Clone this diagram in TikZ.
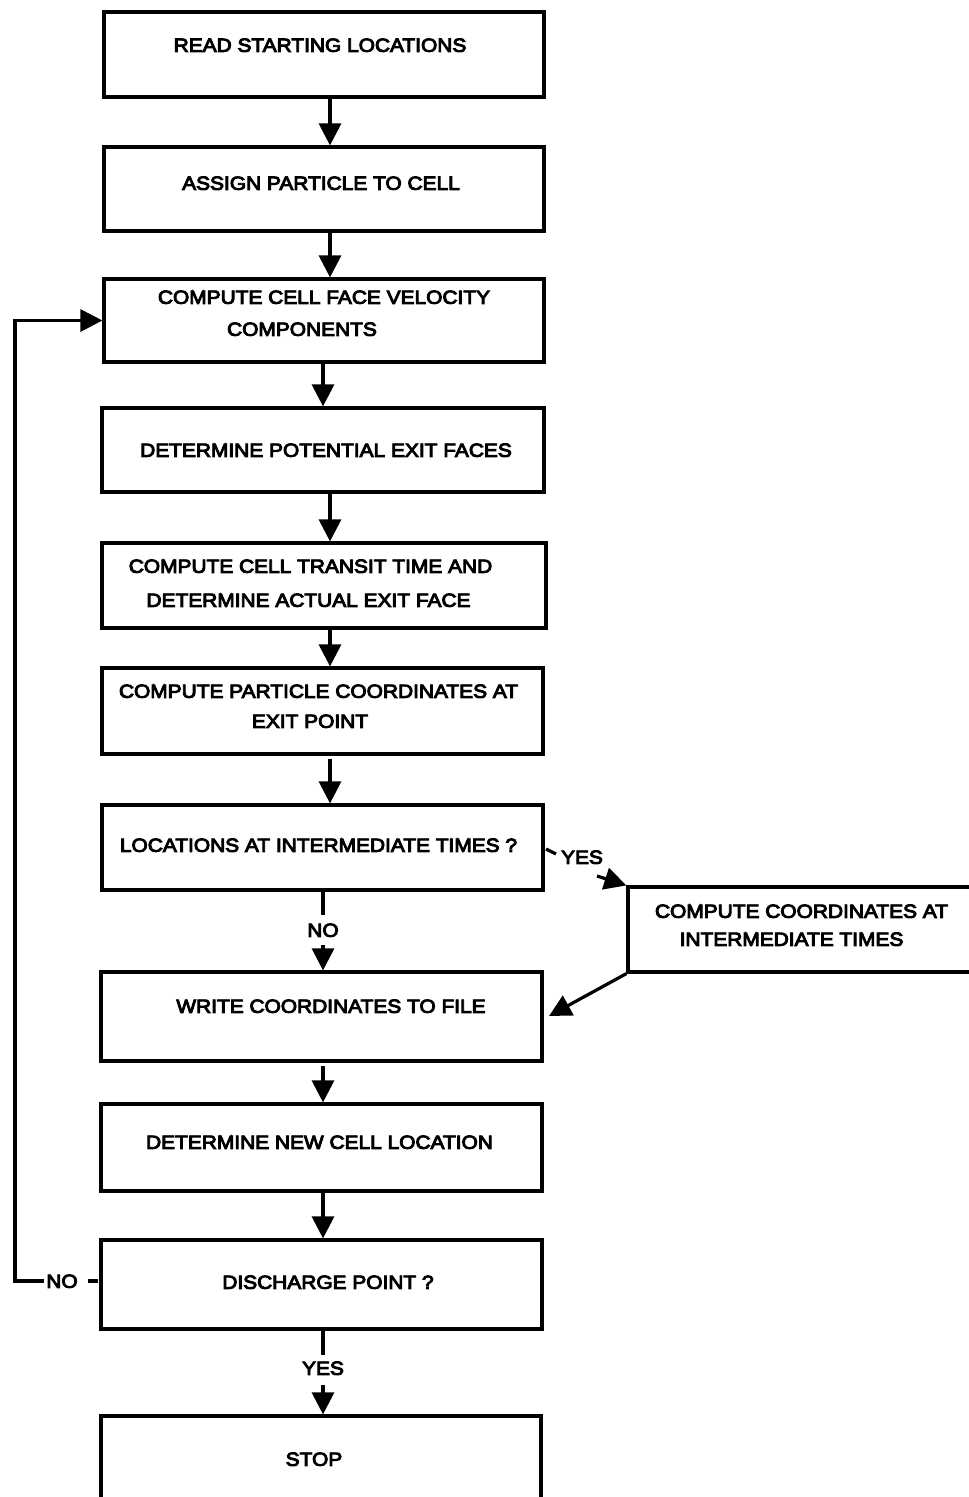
\documentclass[tikz,border=0pt]{standalone}
\usepackage{fontspec}
\setmainfont{Liberation Sans}[FakeStretch=1.1,FakeBold=5]
\usetikzlibrary{arrows.meta}
\begin{document}
\begin{tikzpicture}[x=1pt,y=-1pt,
  line join=miter,
  flowbox/.style={draw, line width=3.2pt, inner sep=0pt},
  wh/.style 2 args={minimum width=#1pt, minimum height=#2pt},
  txt/.style={inner sep=0pt, text height=13.6pt, text depth=0pt,
              font=\fontsize{19}{22}\selectfont},
  wire/.style={draw, line width=3.2pt},
  flow/.style={wire, -{Triangle[width=22pt,length=22pt]}}]

\useasboundingbox (0,0) rectangle (969,1497);
\fill[white] (0,0) rectangle (969,1497);

% columns used by the vertical connectors
\coordinate (colA) at (330,0);
\coordinate (colB) at (323,0);
\coordinate (loopx) at (15,0);

% process boxes
\node[flowbox, wh={440}{85}] (b1)  at (324,54.5)   {};
\node[flowbox, wh={440}{84}] (b2)  at (324,189)    {};
\node[flowbox, wh={440}{83}] (b3)  at (324,320.5)  {};
\node[flowbox, wh={442}{84}] (b4)  at (323,450)    {};
\node[flowbox, wh={444}{85}] (b5)  at (324,585.5)  {};
\node[flowbox, wh={441}{86}] (b6)  at (322.5,711)  {};
\node[flowbox, wh={441}{85}] (b7)  at (322.5,847.5){};
\node[flowbox, wh={372}{85}] (b8)  at (814,929.5)  {};
\node[flowbox, wh={441}{89}] (b9)  at (321.5,1016.5){};
\node[flowbox, wh={441}{87}] (b10) at (321.5,1147.5){};
\node[flowbox, wh={441}{89}] (b11) at (321.5,1284.5){};
\node[flowbox, wh={440}{94}] (b12) at (321,1463)   {};

% box texts
\node[txt] (t1)  at (320,45)    {READ STARTING LOCATIONS};
\node[txt] (t2)  at (321,183)   {ASSIGN PARTICLE TO CELL};
\node[txt] (t3a) at (324,297)   {COMPUTE CELL FACE VELOCITY};
\node[txt] (t3b) at (302,329)   {COMPONENTS};
\node[txt] (t4)  at (326,450)   {DETERMINE POTENTIAL EXIT FACES};
\node[txt] (t5a) at (310.5,566) {COMPUTE CELL TRANSIT TIME AND};
\node[txt] (t5b) at (308.5,600) {DETERMINE ACTUAL EXIT FACE};
\node[txt] (t6a) at (318.5,691) {COMPUTE PARTICLE COORDINATES AT};
\node[txt] (t6b) at (310,721)   {EXIT POINT};
\node[txt] (t7)  at (318.5,845) {LOCATIONS AT INTERMEDIATE TIMES ?};
\node[txt] (t8a) at (801.5,911) {COMPUTE COORDINATES AT};
\node[txt] (t8b) at (791.5,939) {INTERMEDIATE TIMES};
\node[txt] (t9)  at (331,1006)  {WRITE COORDINATES TO FILE};
\node[txt] (t10) at (319.5,1142){DETERMINE NEW CELL LOCATION};
\node[txt] (t11) at (328,1282)  {DISCHARGE POINT ?};
\node[txt] (t12) at (314,1459)  {STOP};

% main sequence
\draw[flow] (b1.south -| colA) -- (b2.north -| colA);
\draw[flow] (b2.south -| colA) -- (b3.north -| colA);
\draw[flow] (b3.south -| colB) -- (b4.north -| colB);
\draw[flow] (b4.south -| colA) -- (b5.north -| colA);
\draw[flow] (b5.south -| colA) -- (b6.north -| colA);
\draw[flow] ([yshift=-3pt]b6.south -| colA) -- (b7.north -| colA);

% decision: intermediate times
\node[txt] (no1) at (323,930) {NO};
\draw[wire] (b7.south -| colB) -- ([yshift=8pt]no1.north -| colB);
\draw[flow] ([yshift=-8pt]no1.south -| colB) -- (b9.north -| colB);

\coordinate (yesTick) at (546,849);
\node[txt] (yes1) at (582,857) {YES};
\coordinate (yesFoot) at (597,876);
\draw[wire] (yesTick) -- (556,854);
\draw[flow] (yesFoot) -- (b8.north west);

\coordinate (b9in) at (549,1016);
\draw[flow] (b8.south west) -- (b9in);

% remaining sequence
\draw[flow] ([yshift=-3pt]b9.south -| colB) -- (b10.north -| colB);
\draw[flow] (b10.south -| colB) -- (b11.north -| colB);

% decision: discharge point
\node[txt] (yes2) at (323,1368) {YES};
\draw[wire] (b11.south -| colB) -- ([yshift=6pt]yes2.north -| colB);
\draw[flow] ([yshift=-10pt]yes2.south -| colB) -- (b12.north -| colB);

\node[txt] (no2) at (62,1281) {NO};
\coordinate (dashR) at (98,1281);
\draw[wire] (dashR) -- (88,1281);
\draw[flow] ([xshift=-2pt]no2.west) -- (no2.west -| loopx) -- (b3.west -| loopx) -- (b3.west);

\end{tikzpicture}
\end{document}
